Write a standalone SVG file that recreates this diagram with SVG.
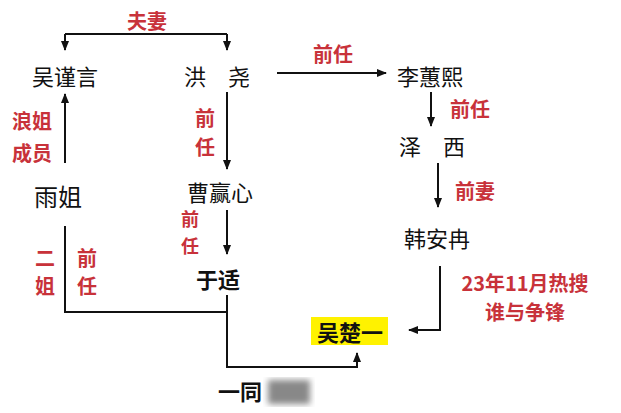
<svg xmlns="http://www.w3.org/2000/svg" width="621" height="413" viewBox="0 0 621 413">
<style>
text{font-family:"Noto Sans CJK SC","Noto Sans",sans-serif;text-anchor:middle;dominant-baseline:central}
.n{font-size:22px;fill:#111}
.b{font-weight:bold}
.r{font-size:20px;fill:#c8323a;font-weight:bold}
.c{fill:none;stroke:#111;stroke-width:2}
</style>
<defs>
<marker id="a" viewBox="0 0 10 10" refX="9" refY="5" markerWidth="5" markerHeight="5" orient="auto"><path d="M0,1 L10,5 L0,9 z" fill="#111"/></marker>
<filter id="bl"><feGaussianBlur stdDeviation="3"/></filter>
</defs>
<rect width="621" height="413" fill="#fff"/>
<g id="connectors">
<path class="c" d="M65,34 H227" />
<path class="c" d="M65,34 V50" marker-end="url(#a)"/>
<path class="c" d="M227,34 V50" marker-end="url(#a)"/>
<path class="c" d="M277,73 H386" marker-end="url(#a)"/>
<path class="c" d="M431,92 V126" marker-end="url(#a)"/>
<path class="c" d="M438,163 V207" marker-end="url(#a)"/>
<path class="c" d="M440,266 V330 H409" marker-end="url(#a)"/>
<path class="c" d="M65,163 V94" marker-end="url(#a)"/>
<path class="c" d="M227,92 V169" marker-end="url(#a)"/>
<path class="c" d="M227,210 V254" marker-end="url(#a)"/>
<path class="c" d="M65,226 V312 H227"/>
<path class="c" d="M227,295 V367 H357 V353" marker-end="url(#a)"/>
</g>
<g id="labels">
<text class="r" x="147" y="20">夫妻</text>
<text class="r" x="333" y="53">前任</text>
<text class="r" x="470" y="108">前任</text>
<text class="r" x="475" y="190">前妻</text>
<text class="r" x="525" y="282">23年11月热搜</text>
<text class="r" x="525" y="311">谁与争锋</text>
<text class="r" x="32" y="120">浪姐</text>
<text class="r" x="32" y="152">成员</text>
<text class="r" x="205" y="117">前</text>
<text class="r" x="205" y="146">任</text>
<text class="r" x="190" y="218" style="font-size:18px">前</text>
<text class="r" x="190" y="245" style="font-size:18px">任</text>
<text class="r" x="45" y="257">二</text>
<text class="r" x="45" y="285">姐</text>
<text class="r" x="87" y="257">前</text>
<text class="r" x="87" y="285">任</text>
</g>
<g id="n1"><text class="n" x="65" y="75">吴谨言</text></g>
<g id="n2"><text class="n" x="217" y="75">洪　尧</text></g>
<g id="n3"><text class="n" x="430" y="75">李蕙熙</text></g>
<g id="n4"><text class="n" x="432" y="145">泽　西</text></g>
<g id="n5"><text class="n" x="437" y="237">韩安冉</text></g>
<g id="n6"><text class="n" x="58" y="195" style="font-size:24px">雨姐</text></g>
<g id="n7"><text class="n" x="220" y="191">曹赢心</text></g>
<g id="n8"><text class="n b" x="218" y="278">于适</text></g>
<g id="n9"><rect x="311" y="317" width="77" height="28" fill="#fff200"/><text class="n b" x="350" y="331">吴楚一</text></g>
<g id="n10"><text class="n b" x="240" y="390">一同</text><rect x="268" y="380" width="42" height="24" fill="#888" filter="url(#bl)"/></g>
</svg>
